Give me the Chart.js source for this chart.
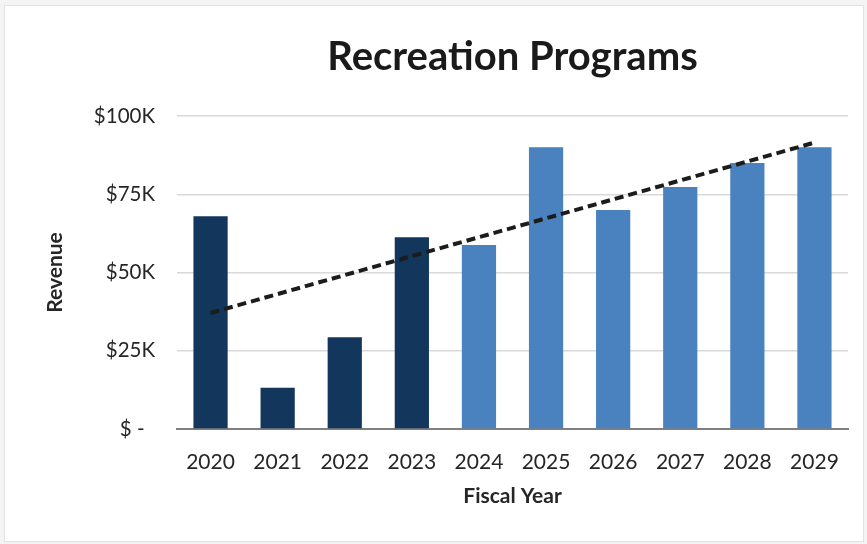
<!DOCTYPE html>
<html lang="en">
<head>
    <meta charset="UTF-8">
    <title>Recreation Programs</title>
    <script src="https://cdn.jsdelivr.net/npm/chart.js"></script>
    <style>
        html, body {
            margin: 0;
            padding: 0;
            background: #f4f4f4;
        }
        .card {
            position: absolute;
            left: 4px;
            top: 5px;
            width: 858px;
            height: 535px;
            background: #ffffff;
            border: 1px solid #e2e2e2;
        }
        .chart-box {
            position: absolute;
            left: 0;
            top: 0;
            width: 867px;
            height: 544px;
        }
    </style>
</head>
<body>
    <div class="card"></div>
    <div class="chart-box">
        <canvas id="revenueChart"></canvas>
    </div>
    <script>
        // values in $K
        const years = ['2020', '2021', '2022', '2023', '2024', '2025', '2026', '2027', '2028', '2029'];
        const revenue = [68, 13.2, 29.3, 61.3, 58.8, 90, 70, 77.3, 85, 90];
        const projected = [false, false, false, false, true, true, true, true, true, true];
        const yTicks = [0, 25, 50, 75, 100];

        const actualColor = '#13365c';
        const projectedColor = '#4a81bf';

        // linear trendline through the bars (least squares)
        const n = revenue.length;
        const xMean = (n + 1) / 2;
        const yMean = revenue.reduce((a, b) => a + b, 0) / n;
        let sxy = 0, sxx = 0;
        revenue.forEach((v, i) => {
            sxy += (i + 1 - xMean) * (v - yMean);
            sxx += (i + 1 - xMean) * (i + 1 - xMean);
        });
        const slope = sxy / sxx;
        const trend = revenue.map((v, i) => yMean + slope * (i + 1 - xMean));

        const font = "Lato, 'Open Sans', sans-serif";

        new Chart(document.getElementById('revenueChart').getContext('2d'), {
            data: {
                labels: years,
                datasets: [
                    {
                        type: 'line',
                        label: 'Trend',
                        data: trend,
                        borderColor: '#1c1c1c',
                        borderWidth: 4,
                        borderDash: [9, 5],
                        pointRadius: 0,
                        fill: false,
                        order: 0
                    },
                    {
                        type: 'bar',
                        label: 'Revenue',
                        data: revenue,
                        backgroundColor: projected.map(p => p ? projectedColor : actualColor),
                        categoryPercentage: 1,
                        barPercentage: 0.51,
                        order: 1
                    }
                ]
            },
            options: {
                responsive: true,
                maintainAspectRatio: false,
                animation: false,
                layout: {
                    padding: { left: 39, right: 19, top: 10, bottom: 35 }
                },
                plugins: {
                    legend: { display: false },
                    tooltip: { enabled: false },
                    title: {
                        display: true,
                        text: 'Recreation Programs',
                        fullSize: false,
                        color: '#1a1a1a',
                        font: { family: font, size: 40, weight: 'bold' },
                        padding: { top: 23, bottom: 35 }
                    }
                },
                scales: {
                    x: {
                        afterFit: axis => {
                            axis.height = 80;
                        },
                        grid: { display: false, drawTicks: false, tickLength: 0 },
                        border: { display: true, color: '#7f7f7f', width: 2 },
                        ticks: {
                            color: '#262626',
                            padding: 21,
                            font: { family: font, size: 21 }
                        },
                        title: {
                            display: true,
                            text: 'Fiscal Year',
                            color: '#262626',
                            font: { family: font, size: 21, weight: 'bold' },
                            padding: { top: 0, bottom: 0 }
                        }
                    },
                    y: {
                        min: 0,
                        max: 100,
                        afterBuildTicks: axis => {
                            axis.ticks = yTicks.map(v => ({ value: v }));
                        },
                        afterFit: axis => {
                            axis.width = 138;
                        },
                        grid: { color: '#d9d9d9', lineWidth: 1.5, drawTicks: false },
                        border: { display: false },
                        ticks: {
                            color: '#262626',
                            padding: 22,
                            font: { family: font, size: 20.5 },
                            callback: v => v === 0 ? '$ -  ' : '$' + v + 'K'
                        },
                        title: {
                            display: true,
                            text: 'Revenue',
                            color: '#262626',
                            font: { family: font, size: 21, weight: 'bold' },
                            padding: { top: 4, bottom: 0 }
                        }
                    }
                }
            }
        });
    </script>
</body>
</html>
